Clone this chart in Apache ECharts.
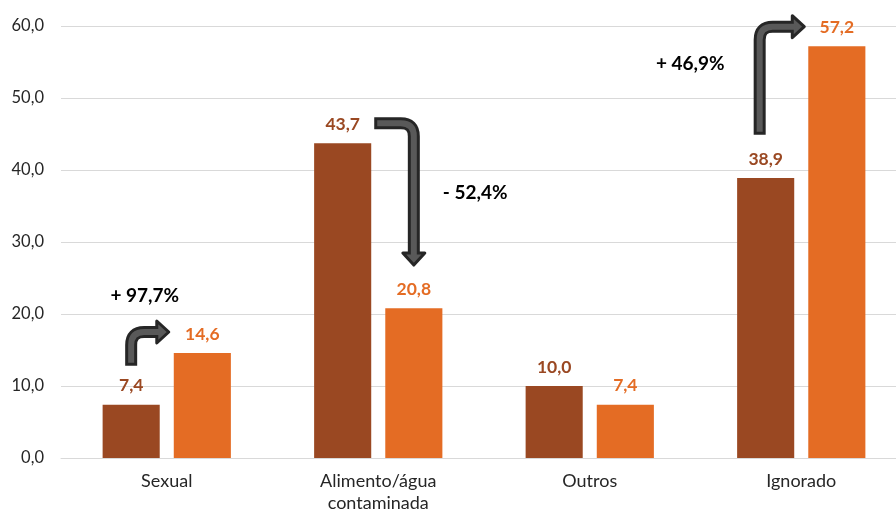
<!DOCTYPE html>
<html><head><meta charset="utf-8">
<script src="https://cdn.jsdelivr.net/npm/echarts@6/dist/echarts.min.js"></script>
<style>html,body{margin:0;padding:0;background:#fff}#c{width:896px;height:510px}</style>
</head><body><div id="c"></div>
<script>
const categories = ['Sexual', 'Alimento/água\ncontaminada', 'Outros', 'Ignorado'];
const seriesA = [7.4, 43.7, 10.0, 38.9];
const seriesB = [14.6, 20.8, 7.4, 57.2];
const yTicks = [0, 10, 20, 30, 40, 50, 60];
const changeLabels = ['+ 97,7%', '- 52,4%', '', '+ 46,9%'];

// annotation arrows: category, then path anchors as [barSlot, pixel nudge, value]
const arrowDefs = [
  {cat: 0, pts: [['Ac', 0, 12.8], ['Ac', 0, 17.5], ['Bl', -5, 17.5]], text: [-22, 22.5]},
  {cat: 1, pts: [['Ar', 3, 46.5], ['Bc', 0, 46.5], ['Bc', 0, 26.8]], text: [97, 36.8]},
  {cat: 3, pts: [['Ac', -6, 44.9], ['Ac', -6, 59.9], ['Bl', -4, 59.9]], text: [-111, 54.7]}
];

const BROWN = '#9A4822', ORANGE = '#E46C24';
const FONT = 'Lato, "Open Sans", sans-serif';

function fmt(v){ return v.toFixed(1).replace('.', ','); }

function renderArrow(params, api) {
  const def = arrowDefs[api.value(0)];
  const center = api.coord([def.cat, 0])[0];
  const band = api.size([1, 0])[0];
  const barW = band * 0.27, gap = barW * 0.246;
  const aC = center - (barW + gap) / 2, bC = center + (barW + gap) / 2;
  const xs = {Ac: aC, Al: aC - barW/2, Ar: aC + barW/2, Bc: bC, Bl: bC - barW/2, Br: bC + barW/2};
  const P = def.pts.map(p => [xs[p[0]] + p[1], api.coord([def.cat, p[2]])[1]]);
  const r = 13, head = 12, hw = 11;
  function dir(a, b){ const dx=b[0]-a[0], dy=b[1]-a[1]; const l=Math.hypot(dx,dy); return [dx/l, dy/l]; }
  const d01 = dir(P[0], P[1]), d12 = dir(P[1], P[2]);
  const c1 = [P[1][0]-r*d01[0], P[1][1]-r*d01[1]];
  const c2 = [P[1][0]+r*d12[0], P[1][1]+r*d12[1]];
  const base = [P[2][0]-head*d12[0], P[2][1]-head*d12[1]];
  function shaft(startInset, endExtra){
    const s = [P[0][0]+startInset*d01[0], P[0][1]+startInset*d01[1]];
    const e = [base[0]+endExtra*d12[0], base[1]+endExtra*d12[1]];
    return 'M'+s[0]+' '+s[1]+' L'+c1[0]+' '+c1[1]+' Q'+P[1][0]+' '+P[1][1]+' '+c2[0]+' '+c2[1]+' L'+e[0]+' '+e[1];
  }
  const nx = -d12[1], ny = d12[0];
  const tri = [[P[2][0], P[2][1]], [base[0]+nx*hw, base[1]+ny*hw], [base[0]-nx*hw, base[1]-ny*hw]];
  const children = [
    {type:'path', shape:{pathData: shaft(0, 0)}, style:{fill:null, stroke:'#262626', lineWidth:12, lineCap:'butt', lineJoin:'round'}},
    {type:'polygon', shape:{points: tri}, style:{fill:'#595959', stroke:'#262626', lineWidth:3, lineJoin:'round'}},
    {type:'path', shape:{pathData: shaft(3, 3)}, style:{fill:null, stroke:'#595959', lineWidth:6, lineCap:'butt', lineJoin:'round'}}
  ];
  const lbl = changeLabels[def.cat];
  const tp = api.coord([def.cat, def.text[1]]);
  children.push({type:'text', style:{text: lbl, x: center + def.text[0], y: tp[1], align:'center', verticalAlign:'middle', fill:'#000', font:'bold 19px ' + FONT}});
  return {type:'group', children};
}

const chart = echarts.init(document.getElementById('c'), null, {renderer:'canvas'});
chart.setOption({
  animation: false,
  backgroundColor: '#fff',
  grid: {left: 61, right: -11, top: 26, bottom: 52, containLabel: false, outerBoundsMode: 'none'},
  xAxis: {
    type: 'category', data: categories,
    axisLine: {show: true, lineStyle: {color: '#d9d9d9', width: 1}},
    axisTick: {show: false},
    axisLabel: {color: '#262626', fontSize: 18, fontFamily: FONT, margin: 12, lineHeight: 22, interval: 0}
  },
  yAxis: {
    type: 'value', min: 0, max: 60, interval: 10,
    axisLine: {show: false}, axisTick: {show: false},
    splitLine: {lineStyle: {color: '#d9d9d9', width: 1}},
    axisLabel: {color: '#262626', fontSize: 16.5, fontFamily: FONT, margin: 17, formatter: v => fmt(v)}
  },
  series: [
    {type: 'bar', data: seriesA, barWidth: '27%', barGap: '24.6%', itemStyle: {color: BROWN},
     label: {show: true, position: 'top', distance: 10, color: BROWN, fontWeight: 'bold', fontSize: 17.5, fontFamily: FONT, formatter: p => fmt(p.value)}},
    {type: 'bar', data: seriesB, barWidth: '27%', itemStyle: {color: ORANGE},
     label: {show: true, position: 'top', distance: 10, color: ORANGE, fontWeight: 'bold', fontSize: 17.5, fontFamily: FONT, formatter: p => fmt(p.value)}},
    {type: 'custom', data: arrowDefs.map((d, i) => [i]), renderItem: renderArrow, z: 10, silent: true}
  ]
});
</script></body></html>
